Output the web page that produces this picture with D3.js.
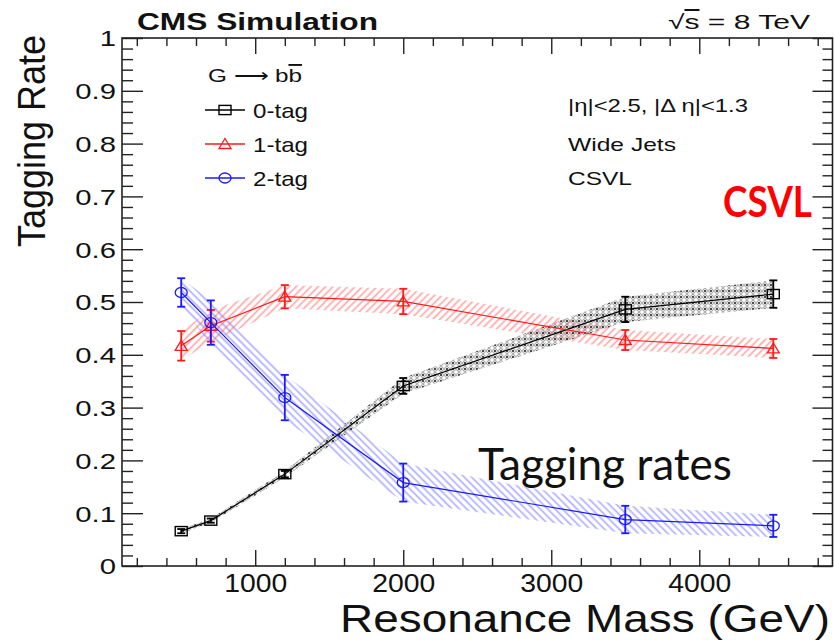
<!DOCTYPE html>
<html>
<head>
<meta charset="utf-8">
<script src="https://cdn.jsdelivr.net/npm/d3@7"></script>
<style>
  html, body { margin: 0; padding: 0; background: #fff; }
  svg { display: block; }
  text { font-family: "Liberation Sans", Arial, Helvetica, sans-serif; fill: #111; }
</style>
</head>
<body>
<svg id="chart" width="834" height="640"></svg>
<script>
// Resonance masses (GeV) of the simulated G -> bb samples
const masses = [500, 700, 1200, 2000, 3500, 4500];

// Fraction of events with 0, 1 and 2 CSVL b-tags, with their uncertainties
const rate0Tag = [0.066, 0.086, 0.174, 0.341, 0.486, 0.515];
const err0Tag  = [0.004, 0.004, 0.006, 0.015, 0.024, 0.026];
const rate1Tag = [0.417, 0.455, 0.510, 0.501, 0.428, 0.412];
const err1Tag  = [0.028, 0.030, 0.022, 0.024, 0.019, 0.018];
const rate2Tag = [0.518, 0.461, 0.319, 0.158, 0.088, 0.076];
const err2Tag  = [0.027, 0.042, 0.043, 0.036, 0.026, 0.021];

const seriesNames = ["0-tag", "1-tag", "2-tag"];
const xTickValues = [1000, 2000, 3000, 4000];
const yTickValues = [0, 0.1, 0.2, 0.3, 0.4, 0.5, 0.6, 0.7, 0.8, 0.9, 1];

const series = [
  { name: seriesNames[0], rate: rate0Tag, err: err0Tag, color: "#000000", marker: "square", fill: "url(#dots0)" },
  { name: seriesNames[1], rate: rate1Tag, err: err1Tag, color: "#ff1a1a", marker: "triangle", fill: "url(#hatch1)" },
  { name: seriesNames[2], rate: rate2Tag, err: err2Tag, color: "#1a1aff", marker: "circle", fill: "url(#hatch2)" }
];

const svg = d3.select("#chart");
const frameLeft = 122, frameRight = 832.5, frameTop = 38, frameBottom = 566;

const x = d3.scaleLinear().domain([100, 4900]).range([frameLeft, frameRight]);
const y = d3.scaleLinear().domain([0, 1]).range([frameBottom, frameTop]);

// ---- fill patterns for the uncertainty bands ----
const defs = svg.append("defs");
const p0 = defs.append("pattern").attr("id", "dots0")
  .attr("patternUnits", "userSpaceOnUse").attr("width", 6).attr("height", 6);
[[0, 0], [6, 0], [0, 6], [6, 6]].forEach(([cx, cy]) => {
  p0.append("circle").attr("cx", cx).attr("cy", cy).attr("r", 2.4)
    .attr("fill", "none").attr("stroke", "#8a8a8a").attr("stroke-width", 0.9);
});
p0.append("circle").attr("cx", 3).attr("cy", 3).attr("r", 1).attr("fill", "#111");

function hatch(id, color, angle) {
  const p = defs.append("pattern").attr("id", id)
    .attr("patternUnits", "userSpaceOnUse").attr("width", 5.2).attr("height", 5.2)
    .attr("patternTransform", `rotate(${angle})`);
  p.append("line").attr("x1", 1.3).attr("y1", 0).attr("x2", 1.3).attr("y2", 5.2)
    .attr("stroke", color).attr("stroke-width", 1.6);
}
hatch("hatch1", "rgba(255,90,90,0.55)", 45);
hatch("hatch2", "rgba(90,90,255,0.5)", -45);

// ---- bands ----
const plot = svg.append("g");
[series[2], series[1], series[0]].forEach(s => {
  const pts = masses.map((m, i) => ({ m, v: s.rate[i], e: s.err[i] }));
  const area = d3.area()
    .x(d => x(d.m)).y0(d => y(d.v - d.e)).y1(d => y(d.v + d.e));
  plot.append("path").datum(pts).attr("d", area).attr("fill", s.fill).attr("stroke", "none");
});

// ---- central lines, error bars and markers ----
function drawMarker(g, type, cx, cy, color) {
  if (type === "square") {
    g.append("rect").attr("x", cx - 6).attr("y", cy - 4.6).attr("width", 12).attr("height", 9.2)
      .attr("fill", "none").attr("stroke", color).attr("stroke-width", 1.4);
  } else if (type === "triangle") {
    g.append("path").attr("d", `M${cx - 6},${cy + 4.5} L${cx + 6},${cy + 4.5} L${cx},${cy - 5.5} Z`)
      .attr("fill", "none").attr("stroke", color).attr("stroke-width", 1.3);
  } else {
    g.append("ellipse").attr("cx", cx).attr("cy", cy).attr("rx", 6).attr("ry", 5)
      .attr("fill", "none").attr("stroke", color).attr("stroke-width", 1.3);
  }
}

series.forEach(s => {
  const pts = masses.map((m, i) => ({ m, v: s.rate[i], e: s.err[i] }));
  const line = d3.line().x(d => x(d.m)).y(d => y(d.v));
  plot.append("path").datum(pts).attr("d", line)
    .attr("fill", "none").attr("stroke", s.color).attr("stroke-width", 1.2);
  const g = plot.append("g");
  pts.forEach(d => {
    const cx = x(d.m);
    const yt = y(d.v + d.e), yb = y(d.v - d.e);
    g.append("line").attr("x1", cx).attr("x2", cx).attr("y1", yt).attr("y2", yb)
      .attr("stroke", s.color).attr("stroke-width", 1.8);
    [yt, yb].forEach(yy => g.append("line").attr("x1", cx - 4).attr("x2", cx + 4)
      .attr("y1", yy).attr("y2", yy).attr("stroke", s.color).attr("stroke-width", 1.8));
    drawMarker(g, s.marker, cx, y(d.v), s.color);
  });
});

// ---- axes (ticks point into the frame) ----
const axisColor = "#222";
function styleAxis(g) {
  g.select(".domain").remove();
  g.selectAll(".tick line").attr("stroke", axisColor).attr("stroke-width", 1.4);
}
const xMinor = d3.range(200, 4900, 200).filter(v => !xTickValues.includes(v));
const yMinor = d3.range(0, 1.001, 0.02).map(v => +v.toFixed(2)).filter(v => !yTickValues.includes(v));

// bottom
const gxb = svg.append("g").attr("transform", `translate(0,${frameBottom})`)
  .call(d3.axisBottom(x).tickValues(xTickValues).tickSizeInner(-16).tickSizeOuter(0).tickPadding(0).tickFormat(d3.format("d")));
styleAxis(gxb);
gxb.selectAll(".tick text").attr("y", 26).attr("dy", 0)
  .style("font-size", "26px").attr("fill", "#111")
  .each(function () { d3.select(this).attr("textLength", this.getComputedTextLength() * 1.09).attr("lengthAdjust", "spacingAndGlyphs"); });
const gxbm = svg.append("g").attr("transform", `translate(0,${frameBottom})`)
  .call(d3.axisBottom(x).tickValues(xMinor).tickSizeInner(-8).tickSizeOuter(0).tickFormat(""));
styleAxis(gxbm);

// top
const gxt = svg.append("g").attr("transform", `translate(0,${frameTop})`)
  .call(d3.axisTop(x).tickValues(xTickValues).tickSizeInner(-16).tickSizeOuter(0).tickFormat(""));
styleAxis(gxt);
const gxtm = svg.append("g").attr("transform", `translate(0,${frameTop})`)
  .call(d3.axisTop(x).tickValues(xMinor).tickSizeInner(-8).tickSizeOuter(0).tickFormat(""));
styleAxis(gxtm);

// left
const gyl = svg.append("g").attr("transform", `translate(${frameLeft},0)`)
  .call(d3.axisLeft(y).tickValues(yTickValues).tickSizeInner(-21).tickSizeOuter(0).tickPadding(0)
    .tickFormat(d => d === 0 || d === 1 ? d3.format("d")(d) : d3.format(".1f")(d)));
styleAxis(gyl);
gyl.selectAll(".tick text").attr("x", -6).attr("dy", "0.36em")
  .style("font-size", "22px").attr("fill", "#111")
  .each(function () { d3.select(this).attr("textLength", this.getComputedTextLength() * 1.33).attr("lengthAdjust", "spacingAndGlyphs"); });
const gylm = svg.append("g").attr("transform", `translate(${frameLeft},0)`)
  .call(d3.axisLeft(y).tickValues(yMinor).tickSizeInner(-11).tickSizeOuter(0).tickFormat(""));
styleAxis(gylm);

// right
const gyr = svg.append("g").attr("transform", `translate(${frameRight},0)`)
  .call(d3.axisRight(y).tickValues(yTickValues).tickSizeInner(-20).tickSizeOuter(0).tickFormat(""));
styleAxis(gyr);
const gyrm = svg.append("g").attr("transform", `translate(${frameRight},0)`)
  .call(d3.axisRight(y).tickValues(yMinor).tickSizeInner(-10).tickSizeOuter(0).tickFormat(""));
styleAxis(gyrm);

// frame
svg.append("rect").attr("x", frameLeft).attr("y", frameTop)
  .attr("width", frameRight - frameLeft).attr("height", frameBottom - frameTop)
  .attr("fill", "none").attr("stroke", axisColor).attr("stroke-width", 1.6);

// ---- axis titles ----
svg.append("text").attr("x", 340).attr("y", 632)
  .style("font-size", "38px").attr("textLength", 490).attr("lengthAdjust", "spacingAndGlyphs")
  .text("Resonance Mass (GeV)");
svg.append("text").attr("transform", "translate(45,247) rotate(-90)")
  .style("font-size", "39px").attr("textLength", 212).attr("lengthAdjust", "spacingAndGlyphs")
  .text("Tagging Rate");

// ---- header ----
svg.append("text").attr("x", 137).attr("y", 30)
  .style("font-size", "23px").style("font-weight", "bold")
  .attr("textLength", 241).attr("lengthAdjust", "spacingAndGlyphs")
  .text("CMS Simulation");
const energy = svg.append("text").attr("x", 668).attr("y", 29).style("font-size", "20px")
  .attr("textLength", 142).attr("lengthAdjust", "spacingAndGlyphs");
energy.append("tspan").text("\u221A");
energy.append("tspan").style("text-decoration", "overline").text("s");
energy.append("tspan").text(" = 8 TeV");

// ---- legend ----
const legendHead = svg.append("text").attr("x", 208).attr("y", 82).style("font-size", "19px")
  .attr("textLength", 94).attr("lengthAdjust", "spacingAndGlyphs");
legendHead.append("tspan").text("G \u27F6 b");
legendHead.append("tspan").style("text-decoration", "overline").text("b");

const legendY = [110, 144, 178];
series.forEach((s, i) => {
  const ly = legendY[i];
  svg.append("line").attr("x1", 205).attr("x2", 245).attr("y1", ly).attr("y2", ly)
    .attr("stroke", s.color).attr("stroke-width", 1.3);
  drawMarker(svg, s.marker, 225, ly, s.color);
  svg.append("text").attr("x", 253).attr("y", ly + 7.5).style("font-size", "21px")
    .attr("textLength", 55).attr("lengthAdjust", "spacingAndGlyphs").text(s.name);
});

// ---- selection labels ----
svg.append("text").attr("x", 568).attr("y", 112).style("font-size", "19px")
  .attr("textLength", 180).attr("lengthAdjust", "spacingAndGlyphs")
  .text("|\u03B7|<2.5, |\u0394 \u03B7|<1.3");
svg.append("text").attr("x", 568).attr("y", 151).style("font-size", "19px")
  .attr("textLength", 108).attr("lengthAdjust", "spacingAndGlyphs").text("Wide Jets");
svg.append("text").attr("x", 568).attr("y", 185).style("font-size", "19px")
  .attr("textLength", 64).attr("lengthAdjust", "spacingAndGlyphs").text("CSVL");

// ---- annotations ----
svg.append("text").attr("x", 723).attr("y", 217)
  .style("font-family", "Lato, 'Open Sans', sans-serif").style("font-weight", "bold").style("font-size", "42px")
  .style("fill", "#ff0000")
  .attr("textLength", 89).attr("lengthAdjust", "spacingAndGlyphs").text("CSVL");
svg.append("text").attr("x", 478).attr("y", 480)
  .style("font-family", "Lato, 'Open Sans', sans-serif").style("font-size", "44px")
  .attr("textLength", 254).attr("lengthAdjust", "spacingAndGlyphs").text("Tagging rates");
</script>
</body>
</html>
